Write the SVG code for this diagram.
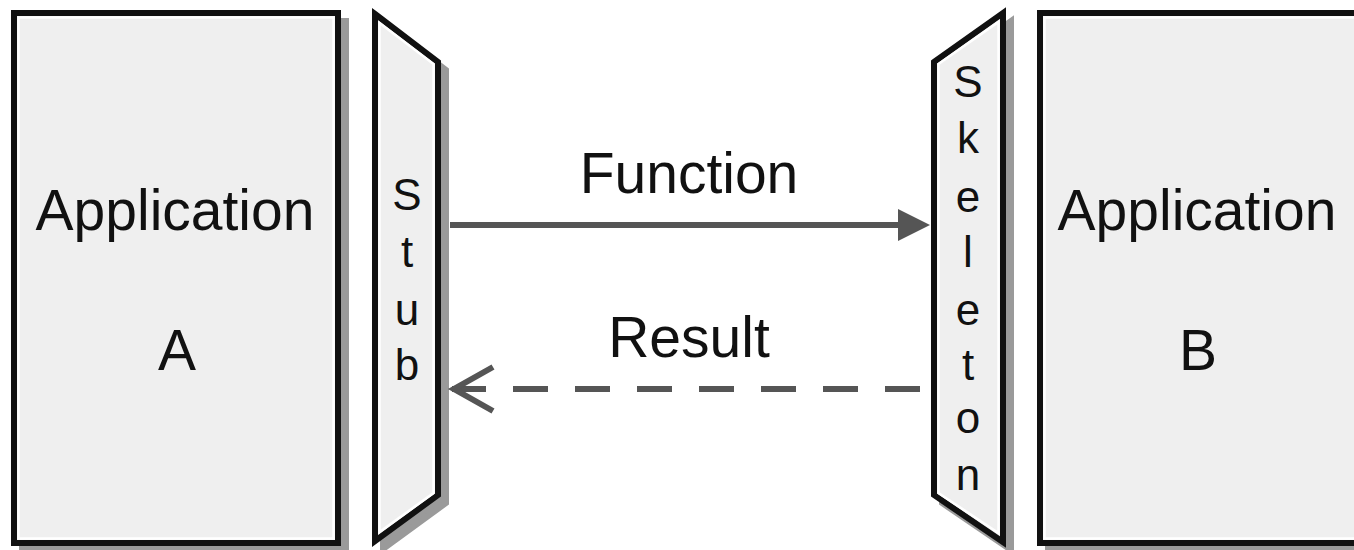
<svg xmlns="http://www.w3.org/2000/svg" width="1354" height="550" viewBox="0 0 1354 550">
  <defs>
    <style>
      .shadow { fill: #9a9a9a; stroke: #9a9a9a; stroke-width: 6; stroke-linejoin: miter; }
      .body { fill: #efefef; stroke: #111; stroke-width: 6; stroke-linejoin: miter; }
      .inner { fill: none; stroke: #ffffff; stroke-width: 2.5; }
      .label { font-family: "Liberation Sans", Arial, Helvetica, sans-serif; font-size: 57px; fill: #111; text-anchor: middle; }
      .vlabel { font-family: "Liberation Sans", Arial, Helvetica, sans-serif; font-size: 44px; fill: #111; text-anchor: middle; }
      .flow { fill: none; stroke: #555; stroke-width: 6; }
    </style>
    <marker id="head-filled" viewBox="0 0 32 32" refX="2" refY="16" markerWidth="32" markerHeight="32" markerUnits="userSpaceOnUse" orient="auto">
      <path d="M0,0 L32,16 L0,32 Z" fill="#555"/>
    </marker>
  </defs>

  <!-- Application A -->
  <g id="app-a">
    <rect class="shadow" x="22" y="21" width="324" height="530"/>
    <rect class="body" x="14" y="13" width="324" height="530"/>
    <rect class="inner" x="18.5" y="17.5" width="315" height="521"/>
    <text class="label" x="175" y="230">Application</text>
    <text class="label" x="177" y="370">A</text>
  </g>

  <!-- Stub -->
  <g id="stub">
    <polygon class="shadow" points="383,22 446,70 446,503 383,549"/>
    <polygon class="body" points="375,14 438,62 438,495 375,541"/>
    <polygon class="inner" points="379.5,23 433.5,64 433.5,493 379.5,532"/>
    <text class="vlabel" x="407" y="210">S</text>
    <text class="vlabel" x="407" y="267">t</text>
    <text class="vlabel" x="407" y="325">u</text>
    <text class="vlabel" x="407" y="380">b</text>
  </g>

  <!-- Skeleton -->
  <g id="skeleton">
    <polygon class="shadow" points="942,70 1011,21 1011,550 942,503"/>
    <polygon class="body" points="934,62 1003,13 1003,542 934,495"/>
    <polygon class="inner" points="938.5,64 998.5,22 998.5,533 938.5,493"/>
    <text class="vlabel" x="968" y="97">S</text>
    <text class="vlabel" x="968" y="153">k</text>
    <text class="vlabel" x="968" y="212">e</text>
    <text class="vlabel" x="968" y="267">l</text>
    <text class="vlabel" x="968" y="325">e</text>
    <text class="vlabel" x="968" y="380">t</text>
    <text class="vlabel" x="968" y="433">o</text>
    <text class="vlabel" x="968" y="490">n</text>
  </g>

  <!-- Application B -->
  <g id="app-b">
    <rect class="shadow" x="1048" y="21" width="330" height="530"/>
    <rect class="body" x="1040" y="13" width="330" height="530"/>
    <rect class="inner" x="1044.5" y="17.5" width="321" height="521"/>
    <text class="label" x="1197" y="230">Application</text>
    <text class="label" x="1198" y="370">B</text>
  </g>

  <!-- Connectors -->
  <g id="connectors">
    <line class="flow" x1="450" y1="225" x2="900" y2="225" marker-end="url(#head-filled)"/>
    <text class="label" x="689" y="193">Function</text>
    <path class="flow" d="M920,389 L452,389" stroke-dasharray="35 27"/>
    <polyline class="flow" points="493,367 454,389 493,411" stroke-linejoin="miter"/>
    <text class="label" x="689" y="357">Result</text>
  </g>
</svg>
